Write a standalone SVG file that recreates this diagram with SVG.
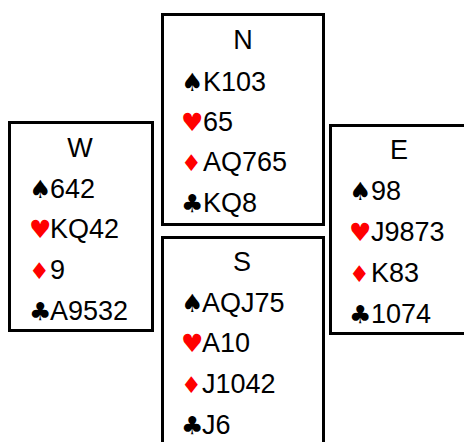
<svg xmlns="http://www.w3.org/2000/svg" width="464" height="442" viewBox="0 0 464 442">
<style>
.box{fill:#fff;stroke:#000;stroke-width:3}
.t{font-family:"Liberation Sans",Arial,sans-serif;font-size:27px;fill:#000}
.c{text-anchor:middle}
.s{font-family:"DejaVu Sans",sans-serif;font-size:25px}
.d{font-size:23px}
.r{fill:#ff0000}
.b{fill:#000}
</style>
<rect width="464" height="442" fill="#fff"/>
<g id="connectors"></g>
<g id="N">
<rect class="box" x="162.5" y="14.5" width="161" height="210"/>
<text class="t c" x="243" y="49">N</text>
<text class="s b" x="181" y="91">♠</text><text class="t" x="203" y="91">K103</text>
<text class="s r" x="181" y="131">♥</text><text class="t" x="203" y="131">65</text>
<text class="s d r" x="181" y="171">♦</text><text class="t" x="203" y="171">AQ765</text>
<text class="s b" x="181" y="212">♣</text><text class="t" x="203" y="212">KQ8</text>
</g>
<g id="W">
<rect class="box" x="9.5" y="122.5" width="143" height="208"/>
<text class="t c" x="80" y="157">W</text>
<text class="s b" x="29" y="198">♠</text><text class="t" x="50" y="198">642</text>
<text class="s r" x="29" y="238">♥</text><text class="t" x="50" y="238">KQ42</text>
<text class="s d r" x="29" y="279">♦</text><text class="t" x="50" y="279">9</text>
<text class="s b" x="29" y="320">♣</text><text class="t" x="50" y="320">A9532</text>
</g>
<g id="E">
<rect class="box" x="330.5" y="125.5" width="150" height="208"/>
<text class="t c" x="399" y="159">E</text>
<text class="s b" x="349" y="200">♠</text><text class="t" x="371" y="200">98</text>
<text class="s r" x="349" y="241">♥</text><text class="t" x="371" y="241">J9873</text>
<text class="s d r" x="349" y="282">♦</text><text class="t" x="371" y="282">K83</text>
<text class="s b" x="349" y="323">♣</text><text class="t" x="371" y="323">1074</text>
</g>
<g id="S">
<rect class="box" x="162.5" y="237.5" width="161" height="230"/>
<text class="t c" x="242" y="271">S</text>
<text class="s b" x="181" y="312">♠</text><text class="t" x="202" y="312">AQJ75</text>
<text class="s r" x="181" y="352">♥</text><text class="t" x="202" y="352">A10</text>
<text class="s d r" x="181" y="393">♦</text><text class="t" x="202" y="393">J1042</text>
<text class="s b" x="181" y="434">♣</text><text class="t" x="202" y="434">J6</text>
</g>
</svg>
